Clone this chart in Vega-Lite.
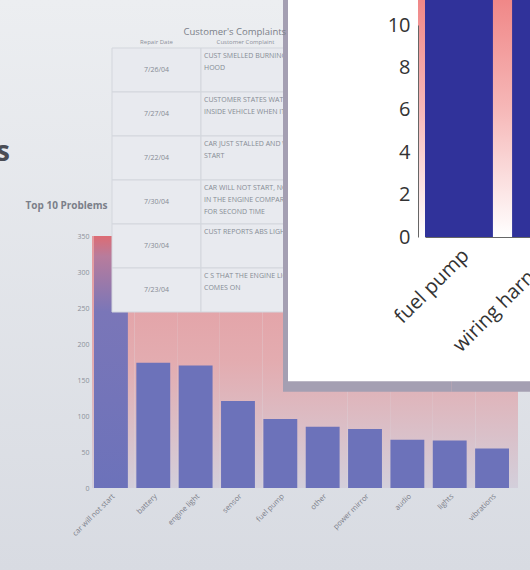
{
  "$schema": "https://vega.github.io/schema/vega-lite/v6.json",
  "width": 530,
  "height": 570,
  "autosize": {"type": "none"},
  "padding": 0,
  "background": "#e3e5ea",
  "config": {
    "font": "Open Sans",
    "view": {
      "stroke": null,
      "fill": {"gradient": "linear", "x1": 0, "y1": 0, "x2": 0, "y2": 1,
        "stops": [{"offset": 0, "color": "#eceef1"}, {"offset": 1, "color": "#d8dbe2"}]}
    }
  },
  "title": {"text": "Problems", "anchor": "start", "frame": "group", "align": "right", "dx": 10, "offset": -227, "fontSize": 28, "fontWeight": "bold", "color": "#4a4d55"},
  "datasets": {
    "problems": [
      {"problem": "car will not start", "count": 350},
      {"problem": "battery", "count": 174},
      {"problem": "engine light", "count": 170},
      {"problem": "sensor", "count": 121},
      {"problem": "fuel pump", "count": 96},
      {"problem": "other", "count": 85},
      {"problem": "power mirror", "count": 82},
      {"problem": "audio", "count": 67},
      {"problem": "lights", "count": 66},
      {"problem": "vibrations", "count": 55}
    ],
    "complaints": [
      {"row": 1, "col": "Repair Date", "text": "7/26/04"},
      {"row": 1, "col": "Customer Complaint", "text": "CUST SMELLED BURNING ODOR FROM\nHOOD"},
      {"row": 2, "col": "Repair Date", "text": "7/27/04"},
      {"row": 2, "col": "Customer Complaint", "text": "CUSTOMER STATES WATER LEAKS\nINSIDE VEHICLE WHEN IT RAINS"},
      {"row": 3, "col": "Repair Date", "text": "7/22/04"},
      {"row": 3, "col": "Customer Complaint", "text": "CAR JUST STALLED AND WON'T\nSTART"},
      {"row": 4, "col": "Repair Date", "text": "7/30/04"},
      {"row": 4, "col": "Customer Complaint", "text": "CAR WILL NOT START, NOISE\nIN THE ENGINE COMPARTMENT\nFOR SECOND TIME"},
      {"row": 5, "col": "Repair Date", "text": "7/30/04"},
      {"row": 5, "col": "Customer Complaint", "text": "CUST REPORTS ABS LIGHT ON"},
      {"row": 6, "col": "Repair Date", "text": "7/23/04"},
      {"row": 6, "col": "Customer Complaint", "text": "C S THAT THE ENGINE LIGHT\nCOMES ON"}
    ],
    "zoomed": [
      {"problem": "fuel pump", "count": 14},
      {"problem": "wiring harness", "count": 13}
    ]
  },
  "layer": [
    {
      "data": {"name": "problems"},
      "mark": {"type": "rect", "fill": {"gradient": "linear", "x1": 0, "y1": 0, "x2": 0, "y2": 1,
        "stops": [{"offset": 0, "color": "#e49a9f"}, {"offset": 0.5, "color": "#e3acb0"}, {"offset": 1, "color": "#d3cfdb"}]}},
      "encoding": {
        "x": {"field": "problem", "type": "nominal", "sort": null, "scale": {"type": "band", "range": [92, 518], "paddingInner": 0, "paddingOuter": 0}, "axis": null},
        "y": {"datum": 350, "type": "quantitative", "scale": {"domain": [0, 350], "range": [488, 236]}, "axis": null},
        "y2": {"datum": 0}
      }
    },
    {
      "data": {"name": "problems"},
      "mark": {"type": "bar"},
      "encoding": {
        "x": {"field": "problem", "type": "nominal", "sort": null,
          "scale": {"type": "band", "range": [94, 509], "paddingInner": 0.2, "paddingOuter": 0},
          "axis": {"orient": "bottom", "offset": -82, "title": null, "labelAngle": -45, "labelFontSize": 7.5, "labelColor": "#7c808a", "ticks": false, "domain": false, "labelPadding": 4}},
        "y": {"field": "count", "type": "quantitative",
          "scale": {"domain": [0, 350], "range": [488, 236]},
          "axis": {"orient": "left", "offset": -92, "values": [0, 50, 100, 150, 200, 250, 300, 350], "grid": false, "ticks": false, "domain": false, "labelFontSize": 7, "labelColor": "#8c909a", "labelPadding": 3,
            "title": "Top 10 Problems", "titleAngle": 0, "titleX": -67, "titleY": 208, "titleAlign": "left", "titleBaseline": "alphabetic", "titleFontSize": 10, "titleFontWeight": "bold", "titleColor": "#7b7f89"}},
        "color": {
          "condition": {"test": "datum.problem === 'car will not start'",
            "value": {"gradient": "linear", "x1": 0, "y1": 0, "x2": 0, "y2": 1,
              "stops": [{"offset": 0, "color": "#dd6c74"}, {"offset": 0.08, "color": "#b87c9c"}, {"offset": 0.3, "color": "#7a76b8"}, {"offset": 1, "color": "#6c72ba"}]}},
          "value": "#6c72ba"
        }
      }
    },
    {
      "data": {"name": "complaints"},
      "mark": {"type": "rect", "fill": "#e8eaef", "stroke": "#d3d6dd", "strokeWidth": 1},
      "encoding": {
        "x": {"field": "col", "type": "nominal", "sort": ["Repair Date", "Customer Complaint"],
          "scale": {"type": "band", "range": [112, 290], "paddingInner": 0, "paddingOuter": 0},
          "axis": {"orient": "top", "offset": -48, "ticks": false, "domain": false, "labelAngle": 0, "labelFontSize": 6, "labelColor": "#8c909a", "labelPadding": 4,
            "title": "Customer's Complaints", "titleAngle": 0, "titleX": 183, "titleY": -14, "titleAlign": "left", "titleBaseline": "alphabetic", "titleFontSize": 9.5, "titleFontWeight": "normal", "titleColor": "#7b7f89"}},
        "y": {"field": "row", "type": "ordinal", "scale": {"type": "band", "range": [48, 312], "paddingInner": 0, "paddingOuter": 0}, "axis": null}
      }
    },
    {
      "data": {"name": "complaints"},
      "transform": [{"filter": "datum.col === 'Repair Date'"}],
      "mark": {"type": "text", "fontSize": 7, "color": "#868a94", "baseline": "middle"},
      "encoding": {
        "x": {"field": "col", "type": "nominal", "sort": ["Repair Date", "Customer Complaint"],
          "scale": {"type": "band", "domain": ["Repair Date", "Customer Complaint"], "range": [112, 290], "paddingInner": 0, "paddingOuter": 0}, "axis": null},
        "y": {"field": "row", "type": "ordinal", "scale": {"type": "band", "domain": [1, 2, 3, 4, 5, 6], "range": [48, 312], "paddingInner": 0, "paddingOuter": 0}, "axis": null},
        "text": {"field": "text", "type": "nominal"}
      }
    },
    {
      "data": {"name": "complaints"},
      "transform": [{"filter": "datum.col === 'Customer Complaint'"}],
      "mark": {"type": "text", "fontSize": 7, "color": "#868a94", "align": "left", "baseline": "top", "dx": 3, "dy": 4, "lineBreak": "\n", "lineHeight": 12},
      "encoding": {
        "x": {"field": "col", "type": "nominal", "bandPosition": 0,
          "scale": {"type": "band", "domain": ["Repair Date", "Customer Complaint"], "range": [112, 290], "paddingInner": 0, "paddingOuter": 0}, "axis": null},
        "y": {"field": "row", "type": "ordinal", "bandPosition": 0, "scale": {"type": "band", "domain": [1, 2, 3, 4, 5, 6], "range": [48, 312], "paddingInner": 0, "paddingOuter": 0}, "axis": null},
        "text": {"field": "text", "type": "nominal"}
      }
    },
    {
      "data": {"name": "zoomed"},
      "mark": {"type": "rect", "fill": "#a49fb2"},
      "encoding": {
        "x": {"field": "problem", "type": "nominal", "sort": null, "scale": {"type": "band", "range": [283, 620], "paddingInner": 0, "paddingOuter": 0}, "axis": null},
        "y": {"datum": -7.3, "type": "quantitative", "scale": {"domain": [0, 10], "range": [237, 25]}, "axis": null},
        "y2": {"datum": 13}
      }
    },
    {
      "data": {"name": "zoomed"},
      "mark": {"type": "rect", "fill": "#ffffff"},
      "encoding": {
        "x": {"field": "problem", "type": "nominal", "sort": null, "scale": {"type": "band", "range": [288, 620], "paddingInner": 0, "paddingOuter": 0}, "axis": null},
        "y": {"datum": -6.8, "type": "quantitative", "scale": {"domain": [0, 10], "range": [237, 25]}, "axis": null},
        "y2": {"datum": 13}
      }
    },
    {
      "data": {"name": "zoomed"},
      "mark": {"type": "rect", "fill": {"gradient": "linear", "x1": 0, "y1": 0, "x2": 0, "y2": 1,
        "stops": [{"offset": 0, "color": "#ef8080"}, {"offset": 0.5, "color": "#f6b8b8"}, {"offset": 1, "color": "#ffffff"}]}},
      "encoding": {
        "x": {"field": "problem", "type": "nominal", "sort": null, "scale": {"type": "band", "range": [418, 592], "paddingInner": 0, "paddingOuter": 0}, "axis": null},
        "y": {"datum": 0, "type": "quantitative", "scale": {"domain": [0, 10], "range": [237, 25]}, "axis": null},
        "y2": {"datum": 12}
      }
    },
    {
      "data": {"name": "zoomed"},
      "mark": {"type": "bar", "color": "#30329a"},
      "encoding": {
        "x": {"field": "problem", "type": "nominal", "sort": null,
          "scale": {"type": "band", "range": [425, 580], "paddingInner": 0.22, "paddingOuter": 0},
          "axis": {"orient": "bottom", "offset": -333, "title": null, "labelAngle": -45, "labelFontSize": 20, "labelColor": "#333333", "ticks": false, "domain": true, "domainColor": "#666666", "labelPadding": 8, "zindex": 1}},
        "y": {"field": "count", "type": "quantitative",
          "scale": {"domain": [0, 10], "range": [237, 25]},
          "axis": {"orient": "left", "offset": -418, "values": [0, 2, 4, 6, 8, 10], "grid": false, "ticks": false, "domain": true, "domainColor": "#666666", "labelFontSize": 20, "labelColor": "#333333", "labelPadding": 8, "title": null, "zindex": 1}}
      }
    }
  ],
  "resolve": {"scale": {"x": "independent", "y": "independent", "color": "independent"}, "axis": {"x": "independent", "y": "independent"}}
}
